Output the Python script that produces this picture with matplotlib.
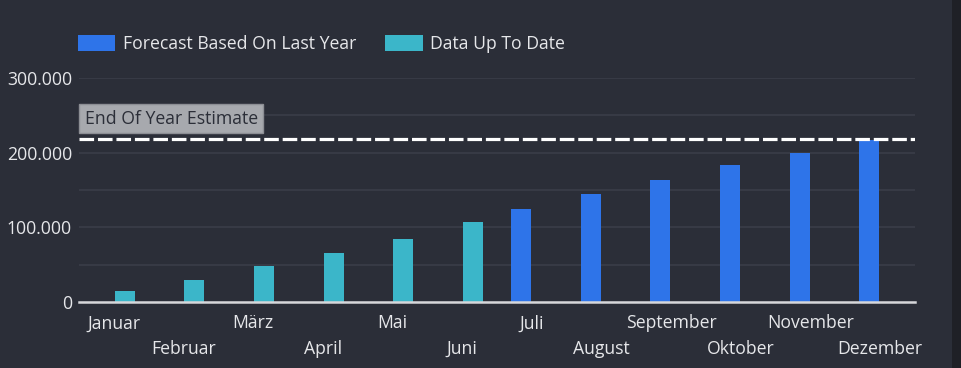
import matplotlib
matplotlib.use("Agg")
import matplotlib.pyplot as plt
from matplotlib.ticker import FuncFormatter, MultipleLocator
from matplotlib.patches import Rectangle
import numpy as np

plt.rcParams.update(
    {
        "font.family": ["Open Sans", "DejaVu Sans"],
        "font.size": 12.7,
        "font.weight": 500,
        "lines.scale_dashes": False,
    }
)

months = ["Januar", "Februar", "März", "April", "Mai", "Juni",
          "Juli", "August", "September", "Oktober", "November", "Dezember"]
# forecast only for the second half, actual data for the first half
forecast = [0, 0, 0, 0, 0, 0, 125000, 144000, 163000, 183000, 199500, 217000]
actual = [14500, 29000, 48000, 66000, 84500, 106500, 0, 0, 0, 0, 0, 0]
end_of_year = 218500

BG = "#2b2e38"
BLUE = "#2e74e9"
CYAN = "#3bb6c9"
TXT = "#e6e7ea"

fig = plt.figure(figsize=(9.61, 3.68), dpi=100, facecolor=BG)
fig.patches.append(Rectangle((952 / 961, 0), 9 / 961, 1, transform=fig.transFigure,
                             facecolor="#1f2026", edgecolor="none", zorder=0))
ax = fig.add_axes([79 / 961, 66 / 368, 836 / 961, 224 / 368])
ax.set_facecolor(BG)

x = np.arange(len(months))
w = 0.29
ax.bar(x - 0.155, forecast, width=w, color=BLUE, label="Forecast Based On Last Year", zorder=3)
ax.bar(x + 0.155, actual, width=w, color=CYAN, label="Data Up To Date", zorder=3)

ax.set_xlim(-0.5, len(months) - 0.5)
ax.set_ylim(0, 300000)
ax.yaxis.set_major_locator(MultipleLocator(100000))
ax.yaxis.set_minor_locator(MultipleLocator(50000))
ax.yaxis.set_major_formatter(FuncFormatter(lambda v, p: f"{v:,.0f}".replace(",", ".")))
ax.grid(axis="y", which="both", color="#3a3d48", lw=1.2, zorder=0)

for s in ["top", "right", "left"]:
    ax.spines[s].set_visible(False)
ax.spines["bottom"].set_color("#d6d7da")
ax.spines["bottom"].set_linewidth(1.8)
ax.spines["bottom"].set_zorder(4)

ax.set_xticks(x[::2], months[::2])
ax.set_xticks(x[1::2], months[1::2], minor=True)
ax.tick_params(axis="x", which="major", length=0, pad=9, colors=TXT)
ax.tick_params(axis="x", which="minor", length=0, pad=27, colors=TXT)
ax.tick_params(axis="y", which="both", length=0, pad=5, colors=TXT)

ax.axhline(end_of_year, color="white", lw=2.3, dashes=(10.5, 2.8), zorder=5)
ax.annotate("End Of Year Estimate", xy=(0, end_of_year), xycoords=("axes fraction", "data"),
            xytext=(4, 8), textcoords="offset points", color="#2b2e38", fontsize=12.7,
            va="bottom", ha="left",
            bbox=dict(boxstyle="square,pad=0.3", fc="#a7a9ae", ec="#8c8e94", lw=1))

fig.legend(loc="center left", bbox_to_anchor=(78 / 961, 1 - 44 / 368), ncol=2,
           frameon=False, handlelength=2.1, handleheight=1.05, handletextpad=0.45,
           columnspacing=1.65, borderpad=0, borderaxespad=0, labelcolor=TXT)

fig.savefig("out.png", dpi=100, facecolor=BG)
